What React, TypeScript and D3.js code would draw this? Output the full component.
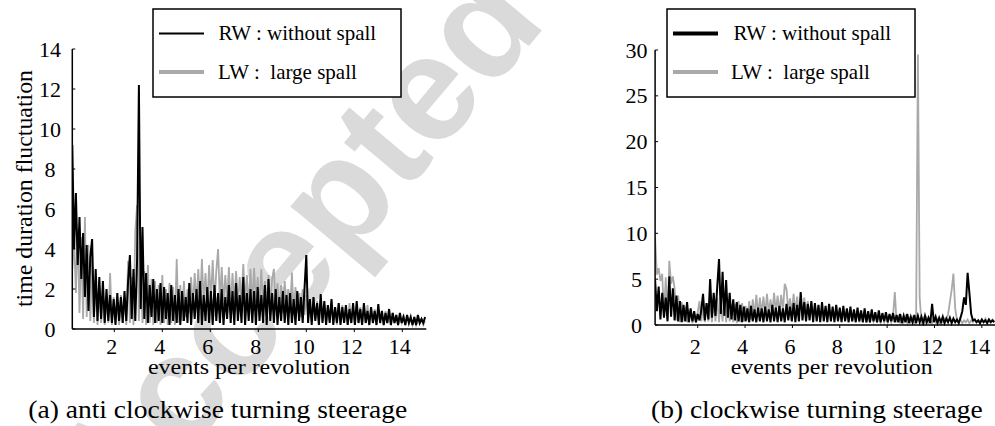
import React from "react";
import * as d3 from "d3";

// sampling grid of the spectra (events per revolution)
const step = 0.075;
const leftStart = 0.25;
const rightStart = 0.2;

// (a) anti clockwise turning steerage
const leftRW = [
  9.2, 4.0, 6.8, 3.2, 5.6, 2.5, 4.8, 1.6, 4.2, 0.9,
  3.6, 4.5, 0.6, 3.0, 0.4, 2.6, 0.5, 2.4, 0.3, 2.0,
  0.4, 1.7, 0.3, 1.5, 0.2, 1.8, 0.4, 1.6, 0.3, 1.9,
  0.4, 2.4, 3.7, 0.5, 3.0, 0.4, 3.5, 12.2, 1.0, 5.1,
  0.5, 2.8, 0.3, 2.2, 0.6, 2.5, 0.3, 2.0, 0.4, 2.3,
  0.3, 2.1, 0.5, 1.8, 0.2, 2.2, 0.4, 1.7, 0.3, 2.0,
  0.2, 1.9, 0.4, 1.6, 0.3, 2.3, 0.2, 1.8, 0.5, 2.0,
  0.3, 2.4, 0.2, 1.7, 0.4, 2.1, 0.3, 1.9, 0.2, 2.2,
  0.4, 1.8, 0.3, 2.0, 0.2, 1.6, 0.5, 2.2, 0.3, 1.9,
  0.2, 2.3, 0.4, 1.7, 0.3, 2.6, 0.2, 1.8, 0.4, 2.0,
  0.3, 1.9, 0.2, 2.1, 0.4, 1.7, 0.3, 2.2, 0.2, 2.5,
  0.4, 1.8, 0.3, 2.0, 0.2, 1.6, 0.4, 1.9, 0.3, 1.7,
  0.2, 1.8, 0.3, 1.5, 0.2, 1.9, 0.4, 1.6, 0.3, 2.0,
  3.7, 0.3, 1.5, 0.2, 1.6, 0.4, 1.3, 0.2, 1.75, 0.3,
  1.4, 0.2, 1.2, 0.3, 1.5, 0.2, 1.1, 0.3, 1.3, 0.2,
  1.1, 0.3, 1.2, 0.2, 1.0, 0.3, 1.3, 0.2, 1.4, 0.3,
  1.0, 0.2, 1.3, 0.3, 0.9, 0.2, 1.1, 0.3, 0.9, 0.2,
  1.25, 0.3, 0.9, 0.2, 0.8, 0.3, 1.0, 0.2, 0.8, 0.3,
  0.7, 0.2, 0.8, 0.3, 0.6, 0.2, 0.7, 0.3, 0.6, 0.2,
  0.6, 0.2, 0.7, 0.3, 0.5, 0.3, 0.6,
];

const leftLW = [
  3.0, 4.5, 1.8, 5.0, 0.8, 4.6, 0.5, 5.6, 0.6, 4.2,
  0.4, 3.5, 0.3, 2.4, 0.2, 2.0, 0.3, 1.8, 0.2, 1.5,
  0.3, 2.8, 0.2, 1.6, 0.3, 1.4, 0.2, 1.7, 0.3, 1.5,
  0.2, 3.4, 0.3, 2.6, 0.2, 4.9, 6.2, 0.4, 3.0, 0.3,
  2.9, 0.2, 3.2, 0.3, 2.5, 0.2, 2.4, 0.3, 2.2, 0.2,
  2.7, 0.3, 2.0, 0.2, 2.3, 0.3, 2.1, 0.2, 3.5, 0.3,
  2.2, 0.4, 2.4, 0.6, 2.0, 0.8, 2.6, 1.0, 2.8, 1.2,
  3.0, 1.0, 3.5, 1.3, 2.8, 1.1, 3.2, 1.4, 3.45, 1.2,
  2.9, 4.0, 1.3, 3.1, 1.2, 2.7, 1.4, 3.1, 1.1, 2.8,
  1.3, 2.9, 1.2, 2.6, 1.4, 3.25, 1.3, 2.7, 1.1, 3.0,
  1.2, 3.05, 1.3, 2.6, 1.1, 2.98, 1.2, 2.4, 1.0, 2.7,
  1.1, 2.5, 3.0, 1.0, 2.3, 0.9, 2.2, 0.8, 2.4, 0.9,
  2.0, 0.8, 2.82, 0.7, 2.1, 0.8, 1.8, 0.6, 2.0, 0.7,
  1.7, 0.5, 1.5, 0.4, 1.6, 0.5, 1.4, 0.3, 1.5, 0.4,
  1.3, 0.3, 1.2, 0.4, 1.4, 0.3, 1.1, 0.2, 1.3, 0.3,
  1.2, 0.3, 1.1, 0.2, 1.3, 0.3, 1.0, 0.2, 1.2, 0.3,
  1.1, 0.2, 1.0, 0.3, 1.2, 0.2, 0.9, 0.3, 1.0, 0.2,
  0.9, 0.3, 0.8, 0.2, 0.9, 0.3, 0.7, 0.2, 0.8, 0.3,
  0.7, 0.2, 0.6, 0.3, 0.7, 0.2, 0.6, 0.3, 0.5, 0.2,
  0.6, 0.2, 0.5, 0.3, 0.5, 0.2, 0.4,
];

// (b) clockwise turning steerage
const rightRW = [
  4.9, 1.5, 4.2, 0.6, 3.5, 0.8, 3.0, 0.4, 5.3, 0.9,
  4.0, 0.5, 3.2, 0.4, 2.6, 0.3, 2.2, 0.4, 2.5, 0.3,
  1.8, 0.4, 1.5, 0.3, 1.2, 0.5, 1.6, 3.4, 0.5, 2.4,
  0.6, 5.0, 0.8, 3.5, 1.0, 4.2, 7.2, 1.2, 5.8, 1.0,
  4.9, 0.8, 3.5, 0.6, 2.8, 0.5, 2.5, 0.4, 2.2, 0.3,
  2.0, 0.4, 1.8, 0.3, 2.1, 0.4, 1.7, 0.3, 1.9, 0.4,
  1.8, 0.3, 2.0, 0.4, 1.7, 0.3, 2.2, 0.4, 1.9, 0.3,
  2.1, 0.4, 1.8, 0.3, 2.3, 0.5, 2.0, 0.4, 2.4, 0.3,
  2.2, 0.4, 3.6, 0.5, 2.5, 0.4, 2.3, 0.5, 2.6, 0.3,
  2.4, 0.4, 2.2, 0.3, 2.5, 0.4, 2.1, 0.3, 2.3, 0.4,
  2.0, 0.3, 2.2, 0.4, 1.9, 0.3, 2.1, 0.4, 1.8, 0.3,
  2.0, 0.4, 1.7, 0.3, 1.9, 0.4, 1.6, 0.3, 1.8, 0.3,
  1.5, 0.3, 1.7, 0.4, 1.4, 0.3, 1.6, 0.3, 1.3, 0.4,
  1.4, 0.3, 1.2, 0.4, 1.3, 0.3, 1.1, 0.3, 1.2, 0.2,
  1.0, 0.3, 1.2, 0.2, 0.9, 0.3, 1.1, 0.2, 1.0, 0.3,
  0.9, 0.2, 1.0, 0.3, 0.8, 0.2, 2.3, 0.3, 0.9, 0.2,
  0.8, 0.3, 0.9, 0.2, 0.7, 0.3, 0.8, 0.2, 0.7, 0.3,
  0.6, 0.2, 0.8, 1.5, 3.0, 2.2, 5.7, 3.5, 1.2, 0.5,
  0.6, 0.3, 0.5, 0.2, 0.6, 0.3, 0.5, 0.2, 0.6, 0.3,
  0.5, 0.3,
];

const rightLW = [
  9.5, 5.5, 6.2, 4.8, 5.6, 1.0, 5.2, 0.6, 7.0, 4.5,
  5.3, 4.0, 0.5, 3.2, 0.3, 2.5, 0.4, 2.0, 0.3, 1.5,
  1.2, 0.2, 1.0, 0.3, 1.4, 2.6, 0.4, 2.0, 0.3, 2.4,
  0.4, 2.8, 0.3, 2.6, 0.4, 3.0, 0.3, 2.5, 0.4, 2.9,
  0.3, 2.5, 0.4, 2.2, 0.3, 2.3, 0.2, 2.6, 0.3, 2.4,
  0.4, 2.1, 0.5, 2.6, 0.6, 2.8, 0.9, 3.3, 1.0, 3.0,
  1.2, 3.1, 1.1, 3.4, 1.3, 2.8, 1.2, 3.5, 1.4, 3.2,
  1.3, 3.3, 1.5, 4.5, 3.9, 1.6, 2.9, 1.3, 3.4, 1.4,
  3.1, 1.3, 2.8, 1.2, 3.0, 1.1, 2.6, 1.0, 2.4, 0.9,
  2.2, 0.9, 2.0, 0.8, 1.9, 0.8, 1.7, 0.7, 1.8, 0.6,
  1.6, 0.6, 1.5, 0.5, 1.6, 0.5, 1.4, 0.5, 1.5, 0.4,
  1.4, 0.4, 1.3, 0.4, 1.4, 0.3, 1.2, 0.4, 1.3, 0.3,
  1.2, 0.3, 1.1, 0.4, 1.2, 0.3, 1.0, 0.3, 1.1, 0.3,
  1.0, 0.3, 0.9, 0.3, 1.0, 3.6, 0.3, 0.9, 0.3, 0.8,
  0.3, 0.9, 0.2, 0.8, 0.3, 0.8, 0.2, 0.7, 29.5, 3.0,
  0.3, 0.7, 0.2, 0.8, 0.3, 0.6, 0.2, 0.7, 0.3, 0.6,
  0.2, 0.6, 0.3, 0.7, 0.5, 1.2, 2.5, 3.8, 5.6, 1.8,
  0.5, 0.3, 0.6, 0.2, 0.5, 0.3, 0.6, 0.2, 0.5, 0.3,
  0.6, 0.3, 0.5, 0.2, 0.6, 0.3, 0.7, 0.4, 0.6, 0.3,
  0.6, 0.4,
];

const xTicks = [2, 4, 6, 8, 10, 12, 14];
const leftYTicks = [0, 2, 4, 6, 8, 10, 12, 14];
const rightYTicks = [0, 5, 10, 15, 20, 25, 30];
const legendLabels = ["RW : without spall", "LW :  large spall"];
const xLabel = "events per revolution";
const yLabel = "time duration fluctuation";
const titles = ["(a) anti clockwise turning steerage", "(b) clockwise turning steerage"];
const watermark = "Accepted manuscript";

const FONT = "'Liberation Serif', 'Times New Roman', serif";
const GRAY = "#a9a9a9";

type PanelProps = {
  rw: number[];
  lw: number[];
  start: number;
  xDomain: [number, number];
  xRange: [number, number];
  yDomain: [number, number];
  yRange: [number, number];
  yTicks: number[];
  yLabelX: number;
  clipId: string;
};

function Panel(p: PanelProps) {
  const x = d3.scaleLinear().domain(p.xDomain).range(p.xRange);
  const y = d3.scaleLinear().domain(p.yDomain).range(p.yRange);
  const line = d3
    .line<number>()
    .x((_, i) => x(p.start + i * step))
    .y((d) => y(d));
  const x0 = p.xRange[0];
  const y0 = p.yRange[0];
  return (
    <g>
      <defs>
        <clipPath id={p.clipId}>
          <rect x={x0} y={0} width={p.xRange[1] - x0 + 2} height={y0 + 1} />
        </clipPath>
      </defs>
      <g clipPath={`url(#${p.clipId})`}>
        <path d={line(p.lw) || ""} fill="none" stroke={GRAY} strokeWidth={1.8} strokeLinejoin="miter" />
        <path d={line(p.rw) || ""} fill="none" stroke="#000" strokeWidth={2} strokeLinejoin="miter" />
      </g>
      <line x1={x0} x2={x0} y1={p.yRange[1]} y2={y0} stroke="#000" strokeWidth={1.5} />
      <line x1={x0} x2={p.xRange[1]} y1={y0} y2={y0} stroke="#000" strokeWidth={1.5} />
      {p.yTicks.map((t) => (
        <g key={"y" + t}>
          <line x1={x0} x2={x0 + 3} y1={y(t)} y2={y(t)} stroke="#000" strokeWidth={1} />
          <text x={p.yLabelX} y={y(t) + 7.5} textAnchor="middle" fontSize={22} fontFamily={FONT}>
            {t}
          </text>
        </g>
      ))}
      {xTicks.map((t) => (
        <g key={"x" + t}>
          <line x1={x(t)} x2={x(t)} y1={y0} y2={y0 + 3} stroke="#000" strokeWidth={1} />
          <text x={x(t) - 2.5} y={353.5} textAnchor="middle" fontSize={22} fontFamily={FONT}>
            {t}
          </text>
        </g>
      ))}
    </g>
  );
}

function Legend({ left, top, thinBlack }: { left: number; top: number; thinBlack: boolean }) {
  return (
    <g>
      <rect x={left} y={top} width={248} height={88} fill="#fff" stroke="#000" strokeWidth={1.5} />
      <line x1={left + 6} x2={left + 51} y1={top + 24.5} y2={top + 24.5} stroke="#000" strokeWidth={thinBlack ? 2 : 4} />
      <line x1={left + 6} x2={left + 51} y1={top + 63} y2={top + 63} stroke={GRAY} strokeWidth={4} />
      <text x={left + (thinBlack ? 65.5 : 66.5)} y={top + 30.5} fontSize={21} fontFamily={FONT} style={{ whiteSpace: "pre" }}>
        {legendLabels[0]}
      </text>
      <text x={left + (thinBlack ? 65 : 64)} y={top + 69.5} fontSize={21} fontFamily={FONT} style={{ whiteSpace: "pre" }}>
        {legendLabels[1]}
      </text>
    </g>
  );
}

export default function App() {
  return (
    <div style={{ position: "absolute", left: 0, top: 0 }}>
      <svg width={995} height={426} style={{ display: "block", background: "#fff" }}>
        <rect x={0} y={0} width={995} height={426} fill="#fff" />
        <text
          transform="translate(114,540) rotate(-50)"
          fontSize={150}
          fontWeight="bold"
          fontFamily="'Liberation Sans', Arial, sans-serif"
          fill="#dadada"
        >
          {watermark}
        </text>
        <Panel
          rw={leftRW}
          lw={leftLW}
          start={leftStart}
          xDomain={[0.25, 15]}
          xRange={[72.3, 426.3]}
          yDomain={[0, 14]}
          yRange={[329, 49]}
          yTicks={leftYTicks}
          yLabelX={50}
          clipId="clipL"
        />
        <Panel
          rw={rightRW}
          lw={rightLW}
          start={rightStart}
          xDomain={[0.2, 15]}
          xRange={[655.1, 1005.5]}
          yDomain={[0, 30]}
          yRange={[325, 50]}
          yTicks={rightYTicks}
          yLabelX={636.5}
          clipId="clipR"
        />
        <Legend left={153} top={9} thinBlack={true} />
        <Legend left={667} top={9} thinBlack={false} />
        <text x={249} y={374} textAnchor="middle" fontSize={22} fontFamily={FONT} textLength={202} lengthAdjust="spacingAndGlyphs">
          {xLabel}
        </text>
        <text x={831.7} y={374} textAnchor="middle" fontSize={22} fontFamily={FONT} textLength={202} lengthAdjust="spacingAndGlyphs">
          {xLabel}
        </text>
        <text
          transform="translate(32,188.5) rotate(-90)"
          textAnchor="middle"
          fontSize={23}
          fontFamily={FONT}
          textLength={237}
          lengthAdjust="spacingAndGlyphs"
        >
          {yLabel}
        </text>
        <text x={28.3} y={417.5} fontSize={25} fontFamily={FONT} textLength={379} lengthAdjust="spacingAndGlyphs">
          {titles[0]}
        </text>
        <text x={651} y={417.5} fontSize={25} fontFamily={FONT} textLength={331.7} lengthAdjust="spacingAndGlyphs">
          {titles[1]}
        </text>
      </svg>
    </div>
  );
}
